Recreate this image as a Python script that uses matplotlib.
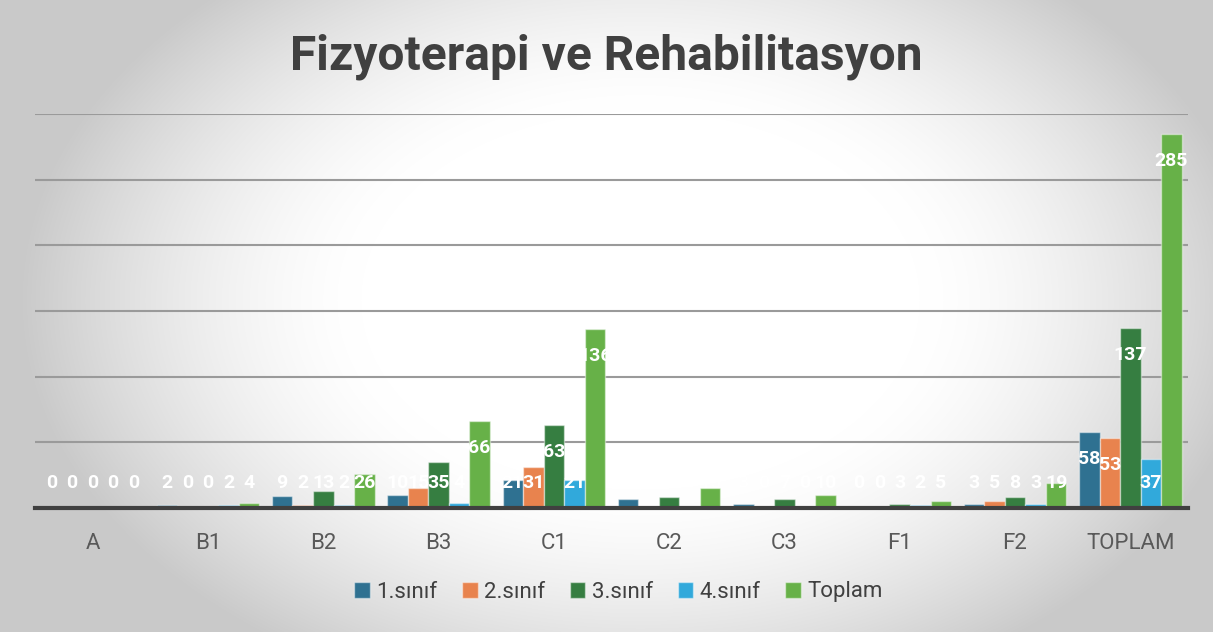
import numpy as np
import matplotlib.pyplot as plt

plt.rcParams["font.family"] = ["Roboto", "DejaVu Sans"]

# --- data ---
categories = ["A", "B1", "B2", "B3", "C1", "C2", "C3", "F1", "F2", "TOPLAM"]
sinif1 = [0, 2, 9, 10, 21, 7, 3, 0, 3, 58]
sinif2 = [0, 0, 2, 15, 31, 0, 0, 0, 5, 53]
sinif3 = [0, 0, 13, 35, 63, 8, 7, 3, 8, 137]
sinif4 = [0, 2, 2, 4, 21, 0, 0, 2, 3, 37]
toplam = [0, 4, 26, 66, 136, 15, 10, 5, 19, 285]
series_names = ["1.sınıf", "2.sınıf", "3.sınıf", "4.sınıf", "Toplam"]
series = [sinif1, sinif2, sinif3, sinif4, toplam]
colors = ["#2F7191", "#E8834E", "#367E41", "#31A9DB", "#67B148"]

W, H = 1213, 632
fig = plt.figure(figsize=(W / 100, H / 100), dpi=100)

# radial grey background (white core, grey edges)
bg = fig.add_axes([0, 0, 1, 1], zorder=-10)
yy, xx = np.mgrid[0:H, 0:W]
r = np.sqrt(((xx - 640) / 620.0) ** 2 + ((yy - 300) / 420.0) ** 2)
t = np.clip((r - 0.45) / 0.55, 0, 1) ** 1.5
shade = 1.0 - 0.21 * t
bg.imshow(np.dstack([shade] * 3), aspect="auto", interpolation="bilinear")
bg.axis("off")

ax = fig.add_axes([35 / W, 1 - 508 / H, (1188 - 35) / W, (508 - 114) / H])
ax.patch.set_alpha(0)

x = np.arange(len(categories))
bw = 0.178
for i, (name, vals, c) in enumerate(zip(series_names, series, colors)):
    pos = x + (i - 2) * bw
    ax.bar(pos, vals, width=bw, color=c, edgecolor=(1, 1, 1, 0.45), linewidth=1,
           label=name, zorder=3)
    for px, v in zip(pos, vals):
        ax.text(px, max(v - 20.5, 19), str(v), ha="center", va="center",
                color="white", fontsize=14, fontweight="bold", zorder=5)

ax.set_xlim(-0.5, len(categories) - 0.5)
ax.set_ylim(0, 300)
ax.set_yticks(np.arange(0, 301, 50))
ax.yaxis.grid(True, color="#9a9a9a", linewidth=1.5, zorder=0)
ax.tick_params(axis="y", left=False, labelleft=False)
ax.set_xticks(x)
ax.set_xticklabels(categories, fontsize=16, color="#595959")
ax.tick_params(axis="x", length=0, pad=18)
for s in ["top", "right", "left"]:
    ax.spines[s].set_visible(False)
ax.spines["bottom"].set_color("#404040")
ax.spines["bottom"].set_linewidth(3)
ax.spines["bottom"].set_zorder(6)

fig.text(0.5, 1 - 57 / H, "Fizyoterapi ve Rehabilitasyon", ha="center", va="center",
         fontsize=34.5, fontweight="bold", color="#404040")

fig.legend(loc="center", bbox_to_anchor=(0.51, 1 - 592 / H), ncol=5, frameon=False,
           fontsize=16, handlelength=0.7, handleheight=0.7, handletextpad=0.3,
           columnspacing=1.1, labelcolor="#404040")

fig.savefig("out.png", dpi=100)
